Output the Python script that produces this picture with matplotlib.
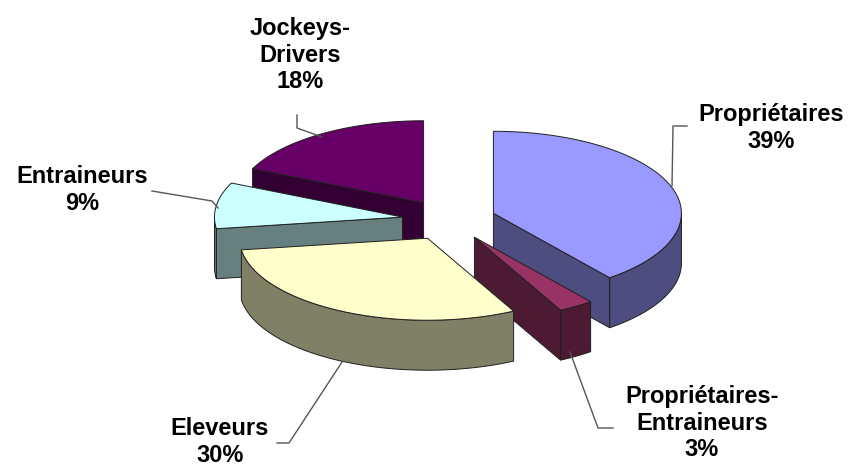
import numpy as np
import matplotlib.pyplot as plt
from matplotlib.patches import Polygon

# Data
labels = ['Propriétaires', 'Propriétaires-\nEntraineurs', 'Eleveurs', 'Entraineurs', 'Jockeys-\nDrivers']
shares = [39, 3, 30, 9, 18]
colors = ['#9999FF', '#993366', '#FFFFCC', '#CCFFFF', '#660066']

# Layout of the 3D pie (pixel space)
cx, cy = 449, 220
rx, ry = 188, 82
depth = 50
explode = 0.25

# label centres and leader lines
label_pos = [(771, 128), (702, 423), (220, 442), (82, 190), (300, 55)]
leaders = [
    [(687, 126), (673, 126), (672, 186)],
    [(613, 428), (598, 428), (570, 352)],
    [(277, 443), (289, 443), (342, 362)],
    [(152, 191), (212, 201), (218, 208)],
    [(297, 115), (297, 128), (322, 137)],
]


def darker(c, f=0.5):
    c = c.lstrip('#')
    rgb = [int(c[i:i + 2], 16) / 255 for i in (0, 2, 4)]
    return tuple(v * f for v in rgb)


def pt(theta, c, dz=0):
    t = np.radians(theta)
    return c[0] + rx * np.sin(t), c[1] - ry * np.cos(t) + dz


fig = plt.figure(figsize=(8.52, 4.71), dpi=100)
ax = fig.add_axes([0, 0, 1, 1])
ax.set_xlim(0, 852)
ax.set_ylim(471, 0)
ax.axis('off')

total = float(sum(shares))
bounds = np.concatenate([[0], np.cumsum(shares) / total * 360])

slices = []
for i in range(len(shares)):
    a1, a2 = bounds[i], bounds[i + 1]
    mid = np.radians((a1 + a2) / 2)
    c = (cx + explode * rx * np.sin(mid), cy - explode * ry * np.cos(mid))
    slices.append((c[1], i, a1, a2, c))

edge = '#202020'
lw = 0.7
z = 1
for _, i, a1, a2, c in sorted(slices):
    top_col = colors[i]
    side_col = darker(colors[i])
    faces = []
    # radial faces
    if np.sin(np.radians(a1)) < -1e-6:
        e = pt(a1, c)
        faces.append([c, e, (e[0], e[1] + depth), (c[0], c[1] + depth)])
    if np.sin(np.radians(a2)) > 1e-6:
        e = pt(a2, c)
        faces.append([c, e, (e[0], e[1] + depth), (c[0], c[1] + depth)])
    # outer wall, front half only
    lo, hi = max(a1, 90), min(a2, 270)
    if hi > lo:
        th = np.linspace(lo, hi, 60)
        top = [pt(t, c) for t in th]
        bot = [pt(t, c, depth) for t in th[::-1]]
        faces.append(top + bot)
    for f in faces:
        ax.add_patch(Polygon(f, closed=True, facecolor=side_col, edgecolor=edge,
                             lw=lw, zorder=z))
    th = np.linspace(a1, a2, 120)
    topface = [c] + [pt(t, c) for t in th]
    ax.add_patch(Polygon(topface, closed=True, facecolor=top_col, edgecolor=edge,
                         lw=lw, zorder=z + 0.5))
    z += 1

# labels
for i, lab in enumerate(labels):
    ax.text(label_pos[i][0], label_pos[i][1], f'{lab}\n{shares[i]}%',
            ha='center', va='center', fontsize=17, fontweight='bold',
            family='Liberation Sans', linespacing=1.2, color='black', zorder=20)
    xs, ys = zip(*leaders[i])
    ax.plot(xs, ys, color='#555555', lw=1, zorder=20)

fig.savefig('out.png', dpi=100)
